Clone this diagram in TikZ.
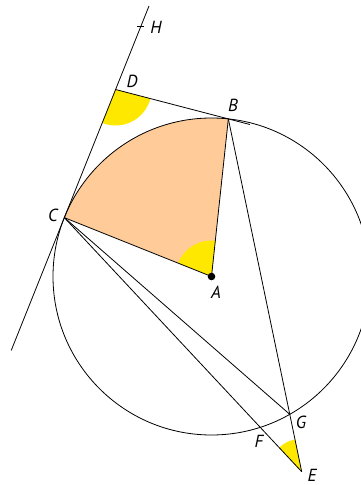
\documentclass[tikz,border=0pt]{standalone}
\usepackage{fontspec}
\setmainfont{PT Sans}
\usetikzlibrary{calc}
\definecolor{peach}{HTML}{FFCC99}
\definecolor{yel}{HTML}{FFE800}
\tikzset{
  lbl/.style={font=\fontsize{17.5}{20}\selectfont\itshape, inner sep=0pt},
  ln/.style={line width=0.8pt, black},
}
\begin{document}
\begin{tikzpicture}[x=1pt,y=1pt]
\useasboundingbox (0,0) rectangle (361,485);
\clip (0,0) rectangle (361,485);
\fill[white] (0,0) rectangle (361,485);
% key points
\coordinate (A) at (211.5,208.5);
\coordinate (B) at ($(A)+(83.9:158.5)$);
\coordinate (C) at ($(A)+(158.2:158.5)$);
\coordinate (E) at (301.7,13.3);
\coordinate (G) at ($(B)!0.8374!(E)$);
\coordinate (T1) at ($(C)!228pt!90:(A)$);
\coordinate (T2) at ($(C)!143pt!-90:(A)$);
\coordinate (D) at ($(C)!138pt!90:(A)$);
\coordinate (Hk) at ($(C)!206pt!90:(A)$);
\coordinate (Bx) at ($(D)!1.19!(B)$);
% fills
\fill[peach] (A) -- ++(83.9:158.5) arc (83.9:158.2:158.5) -- cycle;
\fill[yel] (A) -- ++(83.9:36) arc (83.9:158.2:36) -- cycle;
\fill[yel] (D) -- ++(248.2:36) arc (248.2:345.4:36) -- cycle;
\fill[yel] (E) -- ++(101.75:33) arc (101.75:133.05:33) -- cycle;
% lines
\draw[ln] (A) circle (158.5);
\draw[ln] (T2) -- (T1);
\draw[ln] (D) -- (Bx);
\draw[ln] (A) -- (B);
\draw[ln] (A) -- (C);
\draw[ln] (B) -- (E);
\draw[ln] (C) -- (E);
\draw[ln] (C) -- (G);
\draw[ln] ($(Hk)+(-3.5,0)$) -- ($(Hk)+(3.5,0)$);
\fill (A) circle (3.8);
% labels
\node[lbl] (lD) at (132,404) {D};
\node[lbl] (lB) at (233,380) {B};
\node[lbl] (lC) at (53,270) {C};
\node[lbl] (lA) at (216,193) {A};
\node[lbl] (lH) at (156,458) {H};
\node[lbl] (lG) at (301,63) {G};
\node[lbl] (lF) at (259,44) {F};
\node[lbl] (lE) at (312,10) {E};
\end{tikzpicture}
\end{document}
